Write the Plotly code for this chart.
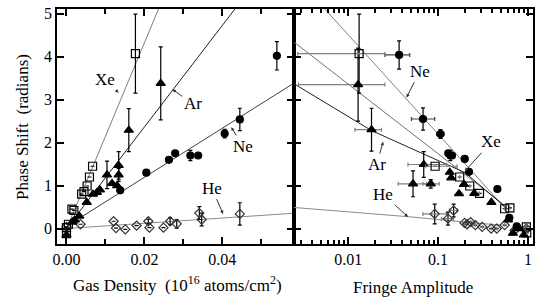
import math
import plotly.graph_objects as go

# ---------------- Left panel: phase shift vs gas density ----------------
xe_density = [0.0, 0.0, 0.0005, 0.0014, 0.0019, 0.0039, 0.0045, 0.0053, 0.0059, 0.0067, 0.0177]
xe_phase = [-0.12, 0.02, 0.10, 0.45, 0.42, 0.80, 0.86, 0.99, 1.20, 1.45, 4.07]
xe_phase_err = [0, 0, 0, 0, 0, 0, 0, 0, 0, 0, 0.92]

ar_density = [0.0, 0.0015, 0.0021, 0.0033, 0.0052, 0.0068, 0.0078, 0.0086, 0.0104, 0.0117, 0.0130, 0.0134, 0.0134, 0.0160, 0.0242]
ar_phase = [-0.15, 0.15, 0.20, 0.29, 0.61, 0.80, 0.84, 0.90, 1.25, 1.05, 1.00, 1.25, 1.47, 2.29, 3.38]
ar_phase_err = [0, 0, 0, 0, 0, 0, 0, 0, 0.32, 0, 0, 0.15, 0.32, 0.50, 0.85]

ne_density = [0.0138, 0.0205, 0.0263, 0.0279, 0.0318, 0.0338, 0.0406, 0.0445, 0.0540]
ne_phase = [0.89, 1.30, 1.60, 1.75, 1.70, 1.70, 2.21, 2.54, 4.02]
ne_phase_err = [0, 0, 0, 0, 0.12, 0, 0.10, 0.26, 0.33]

he_density = [0.0, 0.0036, 0.0121, 0.0127, 0.0151, 0.0180, 0.0210, 0.0213, 0.0249, 0.0266, 0.0283, 0.0341, 0.0347, 0.0445]
he_phase = [0.04, 0.10, 0.17, 0.01, -0.02, 0.07, 0.17, 0.02, 0.02, 0.17, 0.11, 0.36, 0.21, 0.34]
he_phase_err = [0, 0, 0, 0, 0, 0, 0.05, 0, 0, 0.08, 0.10, 0.15, 0.15, 0.26]

# fit curves (left)
xe_fit_density = [0.0, 0.0068, 0.0245]
xe_fit_phase = [0.0, 1.45, 5.30]
ar_fit_density = [0.0, 0.0440]
ar_fit_phase = [0.0, 5.20]
ne_fit_density = [0.0, 0.0590]
ne_fit_phase = [0.05, 3.42]
he_fit_density = [0.0, 0.0590]
he_fit_phase = [0.0, 0.36]

# ---------------- Right panel: phase shift vs fringe amplitude ----------------
xe_amp = [0.01325, 0.0927, 0.174, 0.225, 0.289, 0.55, 0.63, 0.96, 0.97]
xe_amp_phase = [4.07, 1.45, 1.20, 0.99, 0.82, 0.46, 0.48, 0.04, -0.10]
xe_amp_phase_err = [0.92, 0, 0, 0, 0, 0, 0, 0, 0]
xe_amp_err_plus = [0.0123, 0.07, 0, 0, 0, 0, 0, 0, 0]
xe_amp_err_minus = [0.0105, 0.02, 0, 0, 0, 0, 0, 0, 0]

ar_amp = [0.0129, 0.0182, 0.0527, 0.0693, 0.083, 0.135, 0.14, 0.171, 0.194, 0.253, 0.392, 0.60, 0.68, 0.80, 0.90]
ar_amp_phase = [3.35, 2.30, 1.04, 1.49, 1.04, 1.31, 1.18, 0.81, 1.03, 0.82, 0.61, 0.20, -0.11, 0.00, -0.15]
ar_amp_phase_err = [0.85, 0.50, 0.30, 0.30, 0.10, 0, 0, 0, 0, 0, 0, 0, 0, 0, 0]
ar_amp_err_plus = [0.0127, 0.0053, 0.0216, 0.055, 0.02, 0, 0, 0, 0, 0, 0, 0, 0, 0, 0]
ar_amp_err_minus = [0.0101, 0.0063, 0.0167, 0.023, 0.015, 0, 0, 0, 0, 0, 0, 0, 0, 0, 0]

ne_amp = [0.0369, 0.0681, 0.1064, 0.130, 0.137, 0.143, 0.198, 0.221, 0.457, 0.62, 0.75]
ne_amp_phase = [4.04, 2.55, 2.20, 1.75, 1.70, 1.70, 1.62, 1.32, 0.92, 0.25, 0.05]
ne_amp_phase_err = [0.33, 0.26, 0.10, 0, 0.12, 0, 0, 0, 0, 0, 0]
ne_amp_err_plus = [0.0115, 0.0237, 0.01, 0, 0, 0, 0, 0, 0, 0, 0]
ne_amp_err_minus = [0.0113, 0.0175, 0.01, 0, 0, 0, 0, 0, 0, 0, 0]

he_amp = [0.0918, 0.129, 0.149, 0.197, 0.21, 0.23, 0.26, 0.31, 0.39, 0.45, 0.55, 0.71, 0.96]
he_amp_phase = [0.34, 0.23, 0.42, 0.13, 0.10, 0.15, 0.08, 0.04, 0.00, 0.00, 0.08, -0.04, 0.00]
he_amp_phase_err = [0.23, 0.15, 0.15, 0, 0, 0, 0, 0, 0, 0, 0, 0, 0]
he_amp_err_plus = [0.032, 0.02, 0.015, 0, 0, 0, 0, 0, 0, 0, 0, 0, 0]
he_amp_err_minus = [0.024, 0.02, 0.015, 0, 0, 0, 0, 0, 0, 0, 0, 0, 0]

# fit curves (right)
ne_fit_amp = [0.0055, 0.55]
ne_fit_amp_phase = [5.11, 0.49]
xe_fit_amp = [0.0025, 0.55]
xe_fit_amp_phase = [4.34, 0.54]
ar_fit_amp = [0.0025, 0.0182, 0.2, 0.6]
ar_fit_amp_phase = [3.37, 2.28, 1.30, 0.45]
he_fit_amp = [0.0025, 0.05, 0.2, 0.5]
he_fit_amp_phase = [0.49, 0.27, 0.15, 0.08]

FONT = "Liberation Serif"
BLACK = "#000000"

fig = go.Figure()


def line(x, y, color, xa, ya):
    fig.add_trace(go.Scatter(x=x, y=y, mode="lines", xaxis=xa, yaxis=ya,
                             line=dict(color=color, width=1), hoverinfo="skip",
                             showlegend=False))


def pts(x, y, ey, symbol, size, xa, ya, ex_plus=None, ex_minus=None,
        excolor=BLACK, mcolor=BLACK, fill=BLACK):
    kw = {}
    if ex_plus is not None:
        kw["error_x"] = dict(type="data", symmetric=False, array=ex_plus,
                             arrayminus=ex_minus, color=excolor, thickness=1.2, width=2)
    fig.add_trace(go.Scatter(
        x=x, y=y, mode="markers", xaxis=xa, yaxis=ya, showlegend=False,
        marker=dict(symbol=symbol, size=size, color=fill,
                    line=dict(color=mcolor, width=1.2)),
        error_y=dict(type="data", array=ey, color=BLACK, thickness=1.2, width=2),
        **kw))


# left fits
line(xe_fit_density, xe_fit_phase, "#808080", "x", "y")
line(ar_fit_density, ar_fit_phase, "#202020", "x", "y")
line(ne_fit_density, ne_fit_phase, "#404040", "x", "y")
line(he_fit_density, he_fit_phase, "#8a8a8a", "x", "y")
# right fits
line(ne_fit_amp, ne_fit_amp_phase, "#808080", "x2", "y2")
line(xe_fit_amp, xe_fit_amp_phase, "#707070", "x2", "y2")
line(ar_fit_amp, ar_fit_amp_phase, "#202020", "x2", "y2")
line(he_fit_amp, he_fit_amp_phase, "#8a8a8a", "x2", "y2")

# left points
pts(he_density, he_phase, he_phase_err, "diamond-open", 7, "x", "y", mcolor="#333333", fill="#333333")
pts(ne_density, ne_phase, ne_phase_err, "circle", 7, "x", "y")
pts(ar_density, ar_phase, ar_phase_err, "triangle-up", 8, "x", "y")
pts(xe_density, xe_phase, xe_phase_err, "square-open", 8, "x", "y")

# right points
pts(he_amp, he_amp_phase, he_amp_phase_err, "diamond-open", 7, "x2", "y2",
    he_amp_err_plus, he_amp_err_minus, excolor="#808080", mcolor="#333333", fill="#333333")
pts(ne_amp, ne_amp_phase, ne_amp_phase_err, "circle", 7, "x2", "y2",
    ne_amp_err_plus, ne_amp_err_minus, excolor="#404040")
pts(ar_amp, ar_amp_phase, ar_amp_phase_err, "triangle-up", 8, "x2", "y2",
    ar_amp_err_plus, ar_amp_err_minus, excolor="#808080")
pts(xe_amp, xe_amp_phase, xe_amp_phase_err, "square-open", 8, "x2", "y2",
    xe_amp_err_plus, xe_amp_err_minus, excolor="#808080")

minor_log = [m * 10 ** d for d in (-3, -2, -1, 0) for m in range(2, 10)]

axis_common = dict(showline=True, linecolor=BLACK, linewidth=1.5, mirror="ticks",
                   ticks="inside", tickcolor=BLACK, tickwidth=1.5, showgrid=False,
                   zeroline=False, tickfont=dict(family=FONT, size=16, color=BLACK))

Y_RANGE = [-0.36, 5.11]
split = 0.4979

fig.update_layout(
    width=545, height=307,
    margin=dict(l=57, r=12, t=5, b=63),
    paper_bgcolor="white", plot_bgcolor="white",
    showlegend=False,
    xaxis=dict(domain=[0, split], range=[-0.00243, 0.0584], tickvals=[0, 0.02, 0.04],
               ticktext=["0.00", "0.02", "0.04"], ticklen=7, anchor="y",
               minor=dict(tickvals=[0.01, 0.03, 0.05], ticklen=5, ticks="inside",
                          tickcolor=BLACK, tickwidth=1.5),
               **axis_common),
    yaxis=dict(range=Y_RANGE, tickvals=[0, 1, 2, 3, 4, 5], ticklen=7, anchor="x",
               **axis_common),
    xaxis2=dict(domain=[split, 1], type="log", range=[math.log10(0.0025), 0.056],
                tickvals=[0.01, 0.1, 1], ticktext=["0.01", "0.1", "1"], ticklen=7,
                anchor="y2",
                minor=dict(tickvals=minor_log, ticklen=4, ticks="inside",
                           tickcolor=BLACK, tickwidth=1.5),
                **axis_common),
    yaxis2=dict(range=Y_RANGE, tickvals=[0, 1, 2, 3, 4, 5], ticklen=7, anchor="x2",
                showticklabels=False, **axis_common),
)

lab_font = dict(family=FONT, size=17, color=BLACK)


def label(text, x, y, ax, ay, xref, yref):
    fig.add_annotation(text=text, x=x, y=y, ax=ax, ay=ay, xref=xref, yref=yref,
                       axref=xref, ayref=yref, showarrow=True, arrowhead=2,
                       arrowsize=0.7, arrowwidth=1, arrowcolor="#333333",
                       standoff=0, font=lab_font)


# left labels
label("Xe", 0.01337, 3.16, 0.00995, 3.47, "x", "y")
label("Ar", 0.0272, 3.24, 0.0324, 2.90, "x", "y")
label("Ne", 0.0423, 2.36, 0.0453, 1.91, "x", "y")
label("He", 0.0402, 0.34, 0.0373, 0.94, "x", "y")
# right labels (log axis coordinates are log10)
lg = math.log10
label("Ne", lg(0.0446), 3.05, lg(0.0627), 3.66, "x2", "y2")
label("Xe", lg(0.198), 1.33, lg(0.392), 2.02, "x2", "y2")
label("Ar", lg(0.0245), 2.02, lg(0.0207), 1.49, "x2", "y2")
label("He", lg(0.0464), 0.27, lg(0.0245), 0.80, "x2", "y2")

title_font = dict(family=FONT, size=17, color=BLACK)
fig.add_annotation(text="Phase Shift  (radians)", xref="paper", yref="paper",
                   x=-0.0714, y=0.498, textangle=-90, showarrow=False,
                   xanchor="center", yanchor="middle", font=title_font)
fig.add_annotation(text="Gas Density  (10<sup>16</sup> atoms/cm<sup>2</sup>)",
                   xref="paper", yref="paper", x=0.253, y=-0.1715, showarrow=False,
                   xanchor="center", yanchor="middle", font=title_font)
fig.add_annotation(text="Fringe Amplitude", xref="paper", yref="paper",
                   x=0.748, y=-0.184, showarrow=False,
                   xanchor="center", yanchor="middle", font=title_font)

fig.write_html("out.html", config={"displayModeBar": False},
               post_script="document.body.style.margin='0px';")
